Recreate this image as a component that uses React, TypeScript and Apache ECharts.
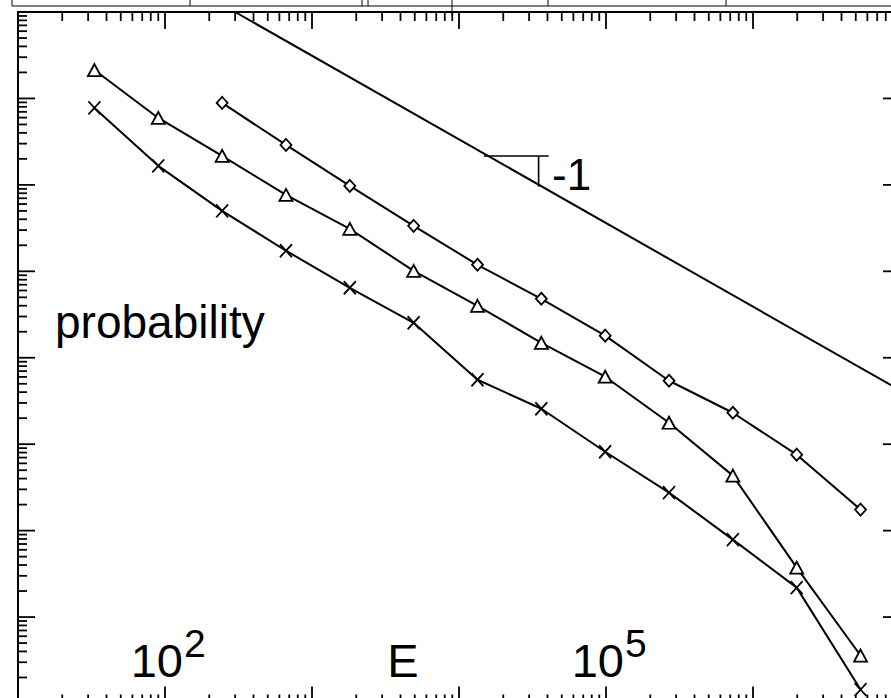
import React, { useEffect, useRef } from 'react';
import * as echarts from 'echarts';

// ---- data ----
const energy = [33.1, 90.0, 244.7, 665.1, 1808, 4915, 13360, 36316, 98716, 268337, 729416, 1982759, 5389698];
const triangleProb = [0.213, 0.0595, 0.0216, 0.00766, 0.0031, 0.00101, 3.99e-4, 1.49e-4, 6.03e-5, 1.77e-5, 4.33e-6, 3.73e-7, 3.59e-8];
const crossProb = [0.0777, 0.0166, 0.005, 0.00173, 6.45e-4, 2.54e-4, 5.57e-5, 2.57e-5, 8.18e-6, 2.75e-6, 7.87e-7, 2.19e-7, 1.45e-8];
const diamondEnergy = [244.7, 665.1, 1808, 4915, 13360, 36316, 98716, 268337, 729416, 1982759, 5389698];
const diamondProb = [0.0887, 0.029, 0.00973, 0.00336, 0.00119, 4.81e-4, 1.8e-4, 5.42e-5, 2.31e-5, 7.56e-6, 1.75e-6];

const refLineE = [300, 1e7];
const refLineP = [1, 4.2e-5];
const slopeHorizE = [14750, 40740];
const slopeHorizP = [0.0216, 0.0216];
const slopeVertE = [34800, 34800];
const slopeVertP = [0.0216, 0.0095];

// axes
const xMin = 10;
const xMax = 1e7;
const yMin = 1e-8;
const yMax = 1;
const xDecades = [10, 100, 1000, 1e4, 1e5, 1e6, 1e7];
const yDecades = [1e-8, 1e-7, 1e-6, 1e-5, 1e-4, 1e-3, 1e-2, 1e-1, 1];
const minorMultipliers = [2, 3, 4, 5, 6, 7, 8, 9];
const xLabelValues = [100, 1e5];
const xLabelBases = ['10', '10'];
const xLabelExps = ['2', '5'];

const MAJOR_LEN = 17;
const MINOR_LEN = 9;

function buildTicks(decades: number[]) {
  const out: { v: number; len: number }[] = [];
  decades.forEach((d, i) => {
    out.push({ v: d, len: MAJOR_LEN });
    if (i < decades.length - 1) {
      minorMultipliers.forEach((m) => out.push({ v: d * m, len: MINOR_LEN }));
    }
  });
  return out;
}

const pairs = (xs: number[], ys: number[]) => xs.map((x, i) => [x, ys[i]]);

export default function App() {
  const ref = useRef<HTMLDivElement>(null);
  useEffect(() => {
    if (!ref.current) return;
    const chart = echarts.init(ref.current, undefined, { renderer: 'svg' });
    const FONT = '"Liberation Sans", Arial, Helvetica, sans-serif';
    const xTicks = buildTicks(xDecades);
    const yTicks = buildTicks(yDecades);
    const markerStyle = { color: '#fff', borderColor: '#000', borderWidth: 1.8 };
    const lineStyle = { color: '#000', width: 2 };

    const option: any = {
      animation: false,
      backgroundColor: '#fff',
      grid: {
        left: 18,
        top: 12,
        width: 882,
        height: 691.5,
        show: true,
        borderColor: '#000',
        borderWidth: 2,
        backgroundColor: 'transparent',
        containLabel: false,
        outerBoundsMode: 'none',
      },
      xAxis: {
        type: 'log',
        logBase: 10,
        min: xMin,
        max: xMax,
        axisLine: { show: false },
        axisTick: { show: false },
        axisLabel: { show: false },
        splitLine: { show: false },
      },
      yAxis: {
        type: 'log',
        logBase: 10,
        min: yMin,
        max: yMax,
        axisLine: { show: false },
        axisTick: { show: false },
        axisLabel: { show: false },
        splitLine: { show: false },
      },
      series: [
        {
          type: 'custom',
          silent: true,
          clip: false,
          data: xTicks.map((t) => [t.v, 1e-4, t.len]),
          renderItem: (params: any, api: any) => {
            const px = api.coord([api.value(0), api.value(1)])[0];
            const cs = params.coordSys;
            const len = api.value(2);
            const st = { stroke: '#000', lineWidth: 1.8 };
            return {
              type: 'group',
              children: [
                { type: 'line', shape: { x1: px, y1: cs.y, x2: px, y2: cs.y + len }, style: st },
                { type: 'line', shape: { x1: px, y1: cs.y + cs.height, x2: px, y2: cs.y + cs.height - len }, style: st },
              ],
            };
          },
        },
        {
          type: 'custom',
          silent: true,
          clip: false,
          data: yTicks.map((t) => [1000, t.v, t.len]),
          renderItem: (params: any, api: any) => {
            const py = api.coord([api.value(0), api.value(1)])[1];
            const cs = params.coordSys;
            const len = api.value(2);
            const st = { stroke: '#000', lineWidth: 1.8 };
            return {
              type: 'group',
              children: [
                { type: 'line', shape: { x1: cs.x, y1: py, x2: cs.x + len, y2: py }, style: st },
                { type: 'line', shape: { x1: cs.x + cs.width, y1: py, x2: cs.x + cs.width - len, y2: py }, style: st },
              ],
            };
          },
        },
        {
          type: 'custom',
          silent: true,
          clip: false,
          data: xLabelValues.map((v, i) => [v, 1e-4, i]),
          renderItem: (params: any, api: any) => {
            const px = api.coord([api.value(0), api.value(1)])[0];
            const cs = params.coordSys;
            const i = api.value(2);
            const bottom = cs.y + cs.height;
            return {
              type: 'group',
              children: [
                {
                  type: 'text',
                  x: px + 18,
                  y: bottom - 43,
                  style: { text: xLabelBases[i], fontSize: 47, fontFamily: FONT, fill: '#000', align: 'right', verticalAlign: 'middle' },
                },
                {
                  type: 'text',
                  x: px + 19,
                  y: bottom - 60,
                  style: { text: xLabelExps[i], fontSize: 39, fontFamily: FONT, fill: '#000', align: 'left', verticalAlign: 'middle' },
                },
              ],
            };
          },
        },
        {
          type: 'line',
          data: pairs(refLineE, refLineP),
          symbol: 'none',
          lineStyle,
          silent: true,
        },
        {
          type: 'line',
          data: pairs(slopeHorizE, slopeHorizP),
          symbol: 'none',
          lineStyle: { color: '#000', width: 1.6 },
          silent: true,
        },
        {
          type: 'line',
          data: pairs(slopeVertE, slopeVertP),
          symbol: 'none',
          lineStyle: { color: '#000', width: 1.6 },
          silent: true,
        },
        {
          type: 'line',
          data: pairs(energy, triangleProb),
          symbol: 'triangle',
          symbolSize: [13, 12],
          showAllSymbol: true,
          lineStyle,
          itemStyle: markerStyle,
          silent: true,
        },
        {
          type: 'line',
          data: pairs(energy, crossProb),
          symbol: 'path://M0 0L12 13M12 0L0 13',
          symbolSize: [12, 13],
          showAllSymbol: true,
          lineStyle,
          itemStyle: { color: 'none', borderColor: '#000', borderWidth: 1.8 },
          silent: true,
        },
        {
          type: 'line',
          data: pairs(diamondEnergy, diamondProb),
          symbol: 'diamond',
          symbolSize: [11, 12],
          showAllSymbol: true,
          lineStyle,
          itemStyle: markerStyle,
          silent: true,
        },
      ],
      graphic: [
        { type: 'line', shape: { x1: 12, y1: 6, x2: 891, y2: 6 }, style: { stroke: '#000', lineWidth: 1 } },
        { type: 'line', shape: { x1: 12, y1: 0, x2: 12, y2: 6 }, style: { stroke: '#000', lineWidth: 1 } },
        { type: 'line', shape: { x1: 190, y1: 0, x2: 190, y2: 6 }, style: { stroke: '#000', lineWidth: 1 } },
        { type: 'line', shape: { x1: 362, y1: 0, x2: 362, y2: 6 }, style: { stroke: '#000', lineWidth: 1 } },
        { type: 'line', shape: { x1: 368, y1: 0, x2: 368, y2: 6 }, style: { stroke: '#000', lineWidth: 1 } },
        { type: 'line', shape: { x1: 452, y1: 0, x2: 452, y2: 14 }, style: { stroke: '#000', lineWidth: 1 } },
        { type: 'line', shape: { x1: 548, y1: 0, x2: 548, y2: 6 }, style: { stroke: '#000', lineWidth: 1 } },
        { type: 'line', shape: { x1: 726, y1: 0, x2: 726, y2: 6 }, style: { stroke: '#000', lineWidth: 1 } },
        {
          type: 'text',
          x: 55,
          y: 322,
          style: { text: 'probability', fontSize: 46, fontFamily: FONT, fill: '#000', align: 'left', verticalAlign: 'middle' },
        },
        {
          type: 'text',
          x: 403,
          y: 660,
          style: { text: 'E', fontSize: 47, fontFamily: FONT, fill: '#000', align: 'center', verticalAlign: 'middle' },
        },
        {
          type: 'text',
          x: 552,
          y: 174,
          style: { text: '-1', fontSize: 44, fontFamily: FONT, fill: '#000', align: 'left', verticalAlign: 'middle' },
        },
      ],
    };
    chart.setOption(option);
    return () => chart.dispose();
  }, []);
  return (
    <div
      ref={ref}
      style={{ position: 'fixed', left: 0, top: 0, width: 891, height: 698, background: '#fff' }}
    />
  );
}
